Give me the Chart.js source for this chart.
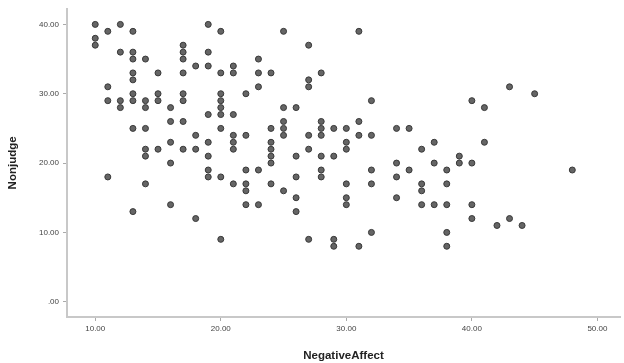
<!DOCTYPE html>
<html lang="en">
<head>
  <meta charset="UTF-8">
  <title>Nonjudge vs NegativeAffect</title>
  <style>
    html, body {
      margin: 0;
      padding: 0;
      background: #fff;
    }
    .chart-container {
      width: 624px;
      height: 363px;
    }
  </style>
  <script src="https://cdn.jsdelivr.net/npm/chart.js"></script>
</head>
<body>
  <div class="chart-container">
    <canvas id="scatterChart"></canvas>
  </div>

  <script>
    // Values
    const negativeAffect = [
      10, 11, 12, 13, 10, 10, 12, 13, 13, 14, 17, 17, 17, 18, 13, 15, 17, 13, 11, 13, 15, 17,
      11, 12, 13, 14, 15, 17, 12, 14, 16, 16, 17,
      19, 20, 25, 19, 19, 21, 23, 27, 20, 21, 23, 24, 28, 27, 27, 23, 20, 20, 22, 20, 25, 26,
      19, 20, 21, 25,
      31, 32, 28, 31,
      43, 45, 40, 41,
      13, 14, 18, 16, 14, 15, 17, 18, 14, 16, 11, 14, 16, 13, 18,
      25, 25, 20, 24, 21, 22, 27, 19, 21, 24, 21, 24, 27, 19, 24, 26, 28, 24, 19, 22, 23, 28,
      19, 20, 26, 28, 21, 22, 24, 22, 25, 26, 22, 23, 26, 20, 27,
      28, 29, 30, 34, 35, 28, 31, 32, 30, 37, 30, 36, 29, 34, 37, 35, 32, 34, 30, 32, 36, 36,
      30, 34, 30, 36, 37, 32, 29, 29, 31,
      41, 39, 39, 40, 38, 48, 38, 38, 40, 40, 43, 42, 44, 38, 38
    ];
    const nonjudge = [
      40, 39, 40, 39, 38, 37, 36, 36, 35, 35, 37, 36, 35, 34, 33, 33, 33, 32, 31, 30, 30, 30,
      29, 29, 29, 29, 29, 29, 28, 28, 28, 26, 26,
      40, 39, 39, 36, 34, 34, 35, 37, 33, 33, 33, 33, 33, 32, 31, 31, 30, 29, 30, 28, 28, 28,
      27, 27, 27, 26,
      39, 29, 26, 26,
      31, 30, 29, 28,
      25, 25, 24, 23, 22, 22, 22, 22, 21, 20, 18, 17, 14, 13, 12,
      25, 24, 25, 25, 24, 24, 24, 23, 23, 23, 22, 22, 22, 21, 21, 21, 21, 20, 19, 19, 19, 19,
      18, 18, 18, 18, 17, 17, 17, 16, 16, 15, 14, 14, 13, 9, 9,
      25, 25, 25, 25, 25, 24, 24, 24, 23, 23, 22, 22, 21, 20, 20, 19, 19, 18, 17, 17, 17, 16,
      15, 15, 14, 14, 14, 10, 9, 8, 8,
      23, 21, 20, 20, 19, 19, 17, 14, 14, 12, 12, 11, 11, 10, 8
    ];
    const xTicks = [10, 20, 30, 40, 50];
    const yTicks = [0, 10, 20, 30, 40];

    const points = negativeAffect.map((x, i) => ({ x: x, y: nonjudge[i] }));

    function fmt(v) {
      return v === 0 ? '.00' : v.toFixed(2);
    }

    const tickFont = { family: 'Arial, "Liberation Sans", sans-serif', size: 8 };
    const titleFont = { family: 'Arial, "Liberation Sans", sans-serif', size: 11.5, weight: 'bold' };

    const ctx = document.getElementById('scatterChart').getContext('2d');
    new Chart(ctx, {
      type: 'scatter',
      data: {
        datasets: [{
          label: 'Nonjudge',
          data: points,
          backgroundColor: '#656565',
          borderColor: '#383838',
          borderWidth: 1,
          pointRadius: 3,
          pointHoverRadius: 3
        }]
      },
      options: {
        responsive: true,
        maintainAspectRatio: false,
        animation: false,
        layout: {
          padding: { top: 3, right: 4, left: 0, bottom: 0 }
        },
        plugins: {
          legend: { display: false },
          tooltip: { enabled: false }
        },
        scales: {
          x: {
            type: 'linear',
            min: 7.75,
            max: 51.8,
            afterFit: function(scale) { scale.height = 46; },
            afterBuildTicks: function(scale) {
              scale.ticks = xTicks.map(v => ({ value: v }));
            },
            ticks: {
              callback: fmt,
              color: '#444',
              font: tickFont,
              padding: 3,
              maxRotation: 0
            },
            grid: {
              drawOnChartArea: false,
              tickLength: 4,
              color: '#aaa'
            },
            border: { color: '#c8c8c8', width: 2 },
            title: {
              display: true,
              text: 'NegativeAffect',
              color: '#222',
              font: titleFont,
              padding: { top: 8, bottom: 0 }
            }
          },
          y: {
            type: 'linear',
            min: -2.2,
            max: 42.25,
            afterFit: function(scale) { scale.width = 67; },
            afterBuildTicks: function(scale) {
              scale.ticks = yTicks.map(v => ({ value: v }));
            },
            ticks: {
              callback: fmt,
              color: '#444',
              font: tickFont,
              padding: 4
            },
            grid: {
              drawOnChartArea: false,
              tickLength: 4,
              color: '#aaa'
            },
            border: { color: '#c8c8c8', width: 2 },
            title: {
              display: true,
              text: 'Nonjudge',
              color: '#222',
              font: titleFont,
              padding: { top: 6, bottom: 0 }
            }
          }
        }
      }
    });
  </script>
</body>
</html>
